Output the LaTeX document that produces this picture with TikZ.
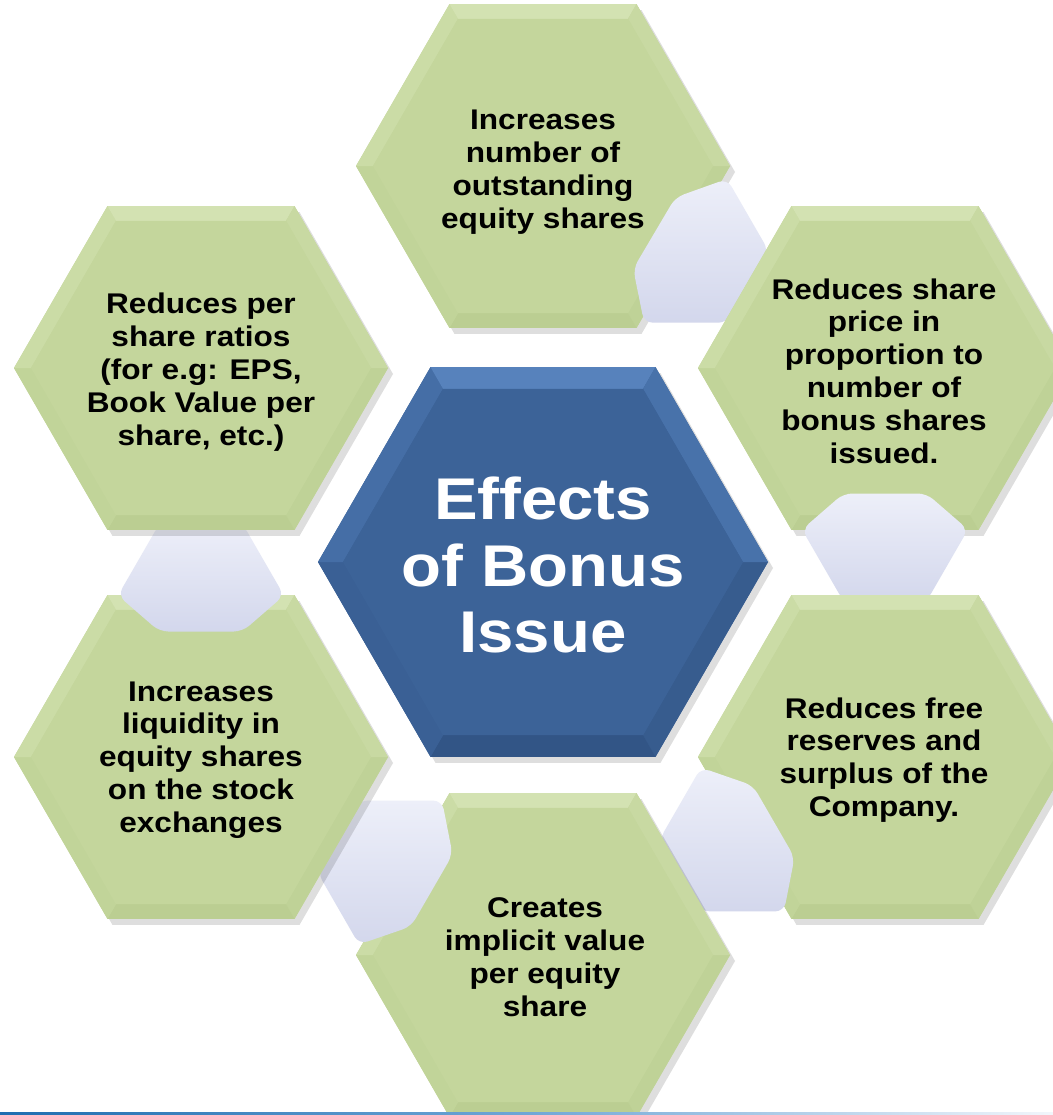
\documentclass[tikz,border=0pt]{standalone}
\usepackage{fontspec}
\setmainfont{Liberation Sans}[FakeStretch=1.11]
\usetikzlibrary{calc}
% green bevel colours
\definecolor{gbase}{HTML}{C4D69B}
\definecolor{g0}{HTML}{BFD297}
\definecolor{g1}{HTML}{BBCE92}
\definecolor{g2}{HTML}{C1D499}
\definecolor{g3}{HTML}{CBDCA6}
\definecolor{g4}{HTML}{D3E2B2}
\definecolor{g5}{HTML}{C8D9A2}
\definecolor{gf}{HTML}{C4D69C}
% blue bevel colours
\definecolor{bbase}{HTML}{3D6499}
\definecolor{b0}{HTML}{375C8E}
\definecolor{b1}{HTML}{325586}
\definecolor{b2}{HTML}{3A6095}
\definecolor{b3}{HTML}{456EA6}
\definecolor{b4}{HTML}{5782BC}
\definecolor{b5}{HTML}{4872AA}
\definecolor{bf}{HTML}{3C6398}
% lavender
\definecolor{lavT}{HTML}{EDEFF9}
\definecolor{lavB}{HTML}{D3D7EC}
\definecolor{lineL}{HTML}{1F6DB0}
\definecolor{lineM}{HTML}{6FA6D6}
\definecolor{lineR}{HTML}{F2F6FB}

\newcommand{\bhex}[4]{%
  \fill[black,opacity=0.13] ($(#1)+(5,6)+(0:#2)$) -- ($(#1)+(5,6)+(60:#2)$) -- ($(#1)+(5,6)+(120:#2)$) -- ($(#1)+(5,6)+(180:#2)$) -- ($(#1)+(5,6)+(240:#2)$) -- ($(#1)+(5,6)+(300:#2)$) -- cycle;
  \fill[#4base] ($(#1)+(0:#2)$) -- ($(#1)+(60:#2)$) -- ($(#1)+(120:#2)$) -- ($(#1)+(180:#2)$) -- ($(#1)+(240:#2)$) -- ($(#1)+(300:#2)$) -- cycle;
  \foreach \k in {0,...,5}{%
    \fill[fill=#4\k] ($(#1)+(\k*60:#2)$) -- ($(#1)+(\k*60+60:#2)$) -- ($(#1)+(\k*60+60:#3)$) -- ($(#1)+(\k*60:#3)$) -- cycle;}
  \fill[#4f] ($(#1)+(0:#3)$) -- ($(#1)+(60:#3)$) -- ($(#1)+(120:#3)$) -- ($(#1)+(180:#3)$) -- ($(#1)+(240:#3)$) -- ($(#1)+(300:#3)$) -- cycle;
}
\newcommand{\lav}[6]{%
  \shade[top color=lavT, bottom color=lavB, rounded corners=5pt] (#1) -- (#2) -- (#3) -- (#4) -- (#5) -- (#6) -- cycle;
}

\tikzset{
  otext/.style={font=\fontsize{16.2pt}{18.7pt}\selectfont\bfseries, align=center, text=black, inner sep=0pt},
  ctext/.style={font=\fontsize{33.5pt}{38pt}\selectfont\bfseries, align=center, text=white, inner sep=0pt}
}

\begin{document}
\begin{tikzpicture}[x=0.02cm,y=-0.02cm]
\useasboundingbox (0,0) rectangle (1053,1115);
\clip (0,0) rectangle (1053,1115);
\fill[white] (0,0) rectangle (1053,1115);

\coordinate (cC) at (543,562);
\coordinate (cT) at (543,166);
\coordinate (cUR) at (885,368);
\coordinate (cLR) at (885,757);
\coordinate (cB) at (543,955);
\coordinate (cLL) at (201,757);
\coordinate (cUL) at (201,368);

\bhex{cT}{187}{170}{g}
\lav{768.6,250.8}{727.1,322.7}{644.1,322.7}{633.2,268.8}{675.4,197.4}{727.1,178.9}
\bhex{cUR}{187}{170}{g}
\lav{968,529.5}{926.5,601.4}{843.5,601.4}{802,529.5}{843.5,493.5}{926.5,493.5}
\bhex{cLR}{187}{170}{g}
\lav{794.5,857.4}{784,911.4}{701,911.4}{659.5,839.5}{701,767.6}{753,785.6}
\bhex{cB}{187}{170}{g}
\lav{442,800.6}{452.6,854.6}{411,926.5}{359,944.4}{317.6,872.5}{359,800.6}
\bhex{cLL}{187}{170}{g}
\lav{284,595.5}{242.5,631.5}{159.5,631.5}{118,595.5}{159.5,523.6}{242.5,523.6}
\bhex{cUL}{187}{170}{g}
\bhex{cC}{225}{200}{b}

\node[otext] (tT) at (543,172) {Increases\\number of\\outstanding\\equity shares};
\node[otext] (tUR) at (884,371) {Reduces share\\price in\\proportion to\\number of\\bonus shares\\issued.};
\node[otext] (tLR) at (884,760) {Reduces free\\reserves and\\surplus of the\\Company.};
\node[otext] (tB) at (545,957) {Creates\\implicit value\\per equity\\share};
\node[otext] (tLL) at (201,760) {Increases\\liquidity in\\equity shares\\on the stock\\exchanges};
\node[otext] (tUL) at (201,372) {Reduces per\\share ratios\\(for e.g: EPS,\\Book Value per\\share, etc.)};
\node[ctext] (tC) at (543,565) {Effects\\of Bonus\\Issue};

\shade[left color=lineL, right color=lineR, middle color=lineM] (0,1112) rectangle (1053,1115);
\end{tikzpicture}
\end{document}
